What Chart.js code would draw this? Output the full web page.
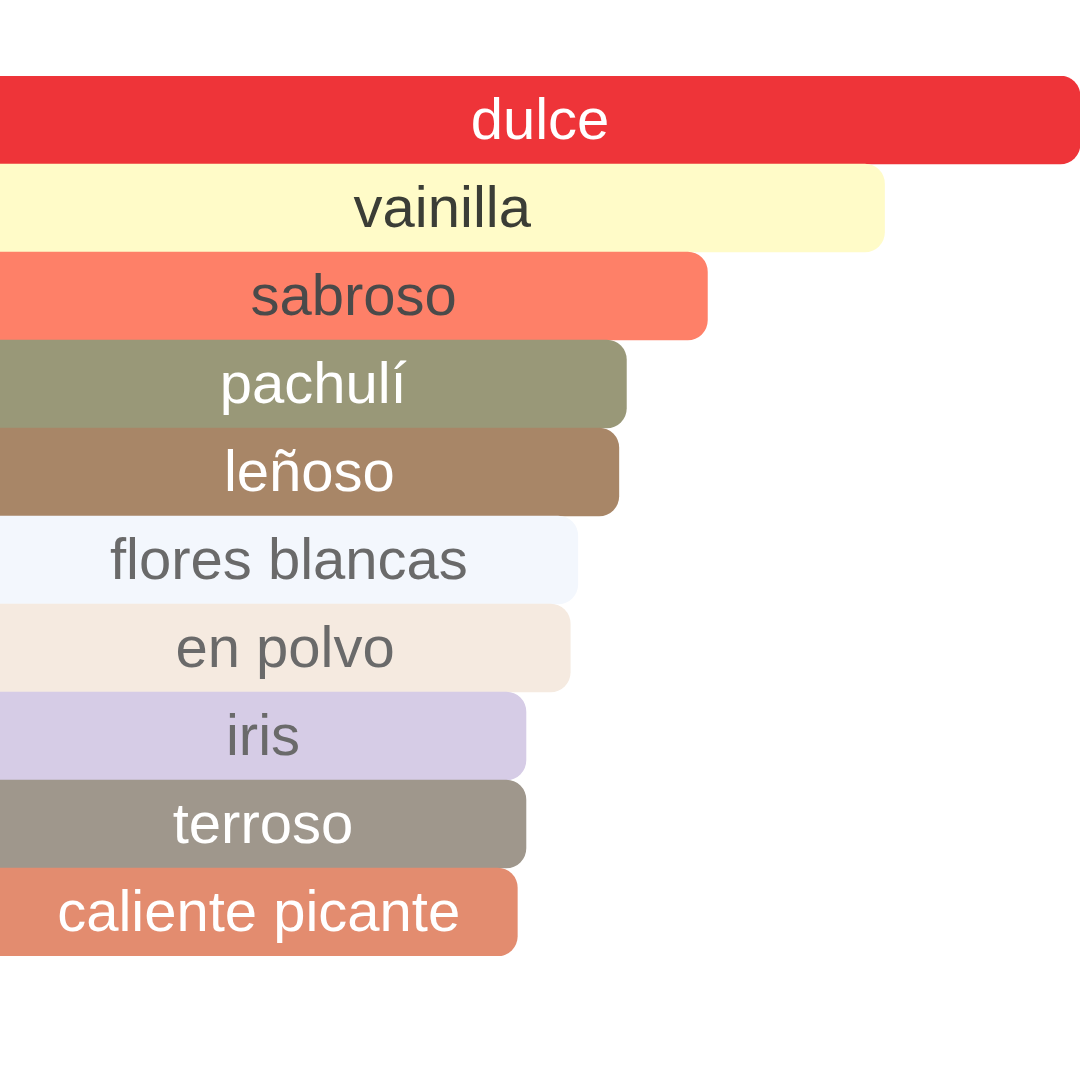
<!DOCTYPE html>
<html>
<head>
<meta charset="utf-8">
<script src="https://cdn.jsdelivr.net/npm/chart.js@4.4.1/dist/chart.umd.min.js"></script>
<style>
  html, body { margin: 0; padding: 0; background: #ffffff; }
  #wrap { width: 1080px; height: 1080px; }
</style>
</head>
<body>
<div id="wrap"><canvas id="chart" width="1080" height="1080"></canvas></div>
<script>
// accords, strongest first
const labels = ['dulce', 'vainilla', 'sabroso', 'pachulí', 'leñoso', 'flores blancas', 'en polvo', 'iris', 'terroso', 'caliente picante'];
const values = [100, 81.9, 65.5, 58, 57.3, 53.5, 52.8, 48.7, 48.7, 47.9];
const barColors = ['#ee3439', '#fffbc8', '#fe8068', '#999878', '#a88667', '#f3f7fd', '#f5eae0', '#d6cce6', '#9f978c', '#e38c6f'];
const textColors = ['#ffffff', '#3b3d36', '#4a4a4a', '#ffffff', '#ffffff', '#6a6a6a', '#6a6a6a', '#6a6a6a', '#ffffff', '#ffffff'];

// draws each label centred inside its bar
const barLabels = {
  id: 'barLabels',
  afterDatasetsDraw(chart) {
    const ctx = chart.ctx;
    const meta = chart.getDatasetMeta(0);
    ctx.save();
    ctx.font = '58px "Liberation Sans", Arial, sans-serif';
    ctx.textAlign = 'center';
    ctx.textBaseline = 'middle';
    meta.data.forEach((bar, i) => {
      const p = bar.getProps(['x', 'y', 'base'], true);
      ctx.fillStyle = textColors[i];
      ctx.fillText(labels[i], (p.x + p.base) / 2, p.y + 3);
    });
    ctx.restore();
  }
};

new Chart(document.getElementById('chart'), {
  type: 'bar',
  data: {
    labels,
    datasets: [{
      data: values,
      backgroundColor: barColors,
      borderWidth: 0,
      borderRadius: 20,
      borderSkipped: 'start',
      categoryPercentage: 1,
      barPercentage: 1
    }]
  },
  options: {
    indexAxis: 'y',
    responsive: false,
    animation: false,
    layout: { padding: { top: 76, bottom: 124, left: 0, right: 0 } },
    plugins: { legend: { display: false }, tooltip: { enabled: false } },
    scales: {
      x: { display: false, min: 0, max: 100 },
      y: { display: false }
    }
  },
  plugins: [barLabels]
});
</script>
</body>
</html>
